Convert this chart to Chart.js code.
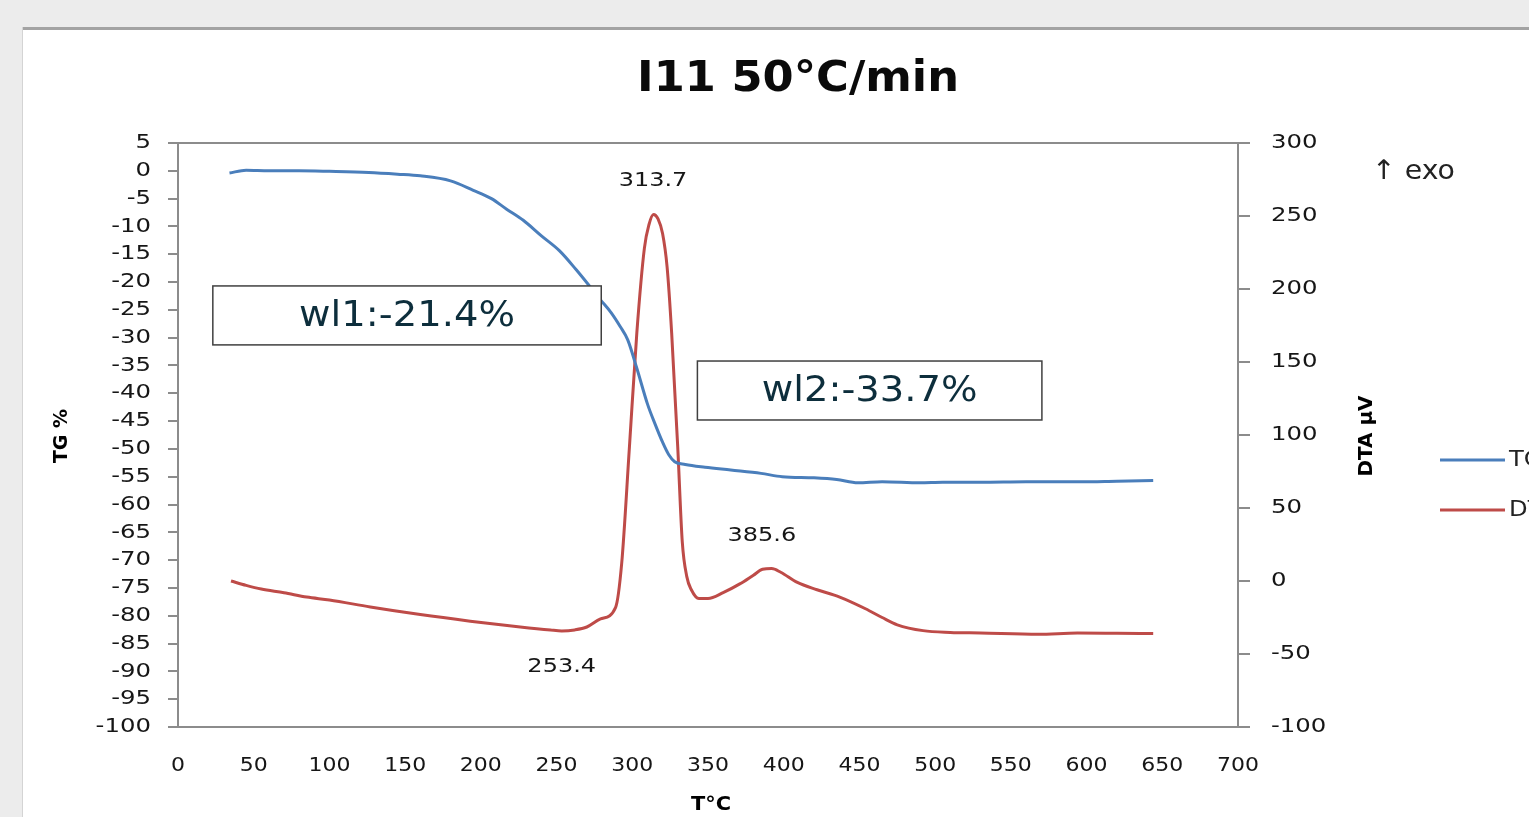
<!DOCTYPE html>
<html>
<head>
<meta charset="utf-8">
<title>I11 50°C/min</title>
<script src="https://cdn.jsdelivr.net/npm/chart.js@4.4.1/dist/chart.umd.min.js"></script>
<style>
  html, body { margin: 0; padding: 0; background: #ececec; overflow: hidden; }
  #wrap { width: 1529px; height: 817px; }
</style>
</head>
<body>
<div id="wrap"><canvas id="tgaChart" width="1529" height="817"></canvas></div>
<script>
// TG curve (temperature °C, mass change %)
const tgTemp = [34, 45, 60, 80, 100, 126, 145, 160, 180, 195, 207, 217, 228, 240, 252, 263, 272, 279, 286, 292,
  297, 303, 310, 315, 320, 324, 328, 335, 348, 365, 385, 399, 420, 435, 449, 465, 490, 505, 530, 560, 596, 620, 644];
const tgValues = [-0.4, 0.1, 0.0, 0.0, -0.1, -0.3, -0.6, -0.9, -1.8, -3.5, -5.0, -6.9, -8.9, -11.7, -14.4, -17.8, -20.8, -23.2, -25.5, -28.0,
  -30.4, -35.5, -41.9, -45.5, -48.8, -51.0, -52.3, -52.8, -53.3, -53.8, -54.4, -55.0, -55.2, -55.5, -56.1, -55.9, -56.1, -56.0, -56.0, -55.9, -55.9, -55.8, -55.7];

// DTA curve (temperature °C, µV)
const dtaTemp = [35, 45, 55, 70, 85, 100, 127, 160, 193, 226, 246, 253.4, 262, 270, 279, 289, 293, 298, 303, 308,
  311, 314, 317, 320, 323, 326, 330, 333, 336, 339, 344, 350, 360, 371, 380, 386, 392, 398, 409, 422, 437,
  454, 465, 475, 492, 510, 530, 568, 594, 620, 644];
const dtaValues = [0, -3, -5.5, -8, -11, -13, -17.8, -23, -27.5, -31.5, -33.6, -34.2, -33.5, -31.5, -26, -18, 12, 90, 170, 228,
  244, 251, 248, 238, 215, 170, 92, 27, 3, -6, -12, -12, -8, -2, 4, 8, 8.5, 6, -1, -6, -11,
  -19, -25, -30, -34, -35.2, -35.6, -36.5, -35.6, -35.8, -36];

// peak labels on the DTA curve: temperature, text, above/below
const peakTemps = [313.7, 385.6, 253.4];
const peakTexts = ["313.7", "385.6", "253.4"];
const peakAbove = [true, true, false];

// weight loss boxes: text and box corners in data units (T, TG)
const boxTexts = ["wl1:-21.4%", "wl2:-33.7%"];
const boxT0 = [23, 343];
const boxT1 = [279.5, 570.5];
const boxTG0 = [-20.7, -34.2];
const boxTG1 = [-31.3, -44.8];

const seriesNames = ["TG", "DTA"];
const blue = "#4a7ebb";
const red = "#be4b48";

function toPoints(xs, ys) {
  return xs.map((x, i) => ({ x: x, y: ys[i] }));
}

// draws text squeezed/stretched horizontally like the original picture
function sText(ctx, txt, x, y, align, sx) {
  ctx.save();
  ctx.translate(x, y);
  ctx.scale(sx, 1);
  ctx.textAlign = align;
  ctx.fillText(txt, 0, 0);
  ctx.restore();
}

function nearestDta(t) {
  let best = 0;
  dtaTemp.forEach((v, i) => { if (Math.abs(v - t) < Math.abs(dtaTemp[best] - t)) best = i; });
  return dtaValues[best];
}

const decorPlugin = {
  id: 'decor',
  beforeDraw(chart) {
    const ctx = chart.ctx;
    ctx.save();
    ctx.fillStyle = '#ececec';
    ctx.fillRect(0, 0, chart.width, chart.height);
    ctx.fillStyle = '#ffffff';
    ctx.fillRect(23, 29, chart.width - 23, chart.height - 29);
    ctx.fillStyle = '#a3a3a3';
    ctx.fillRect(23, 27, chart.width - 23, 3);
    ctx.fillStyle = '#d4d4d4';
    ctx.fillRect(22, 27, 1, chart.height - 27);
    ctx.restore();
  },
  beforeDatasetsDraw(chart) {
    const ctx = chart.ctx;
    const a = chart.chartArea;
    ctx.save();
    ctx.strokeStyle = '#8c8c8c';
    ctx.lineWidth = 2;
    ctx.strokeRect(a.left, a.top, a.right - a.left, a.bottom - a.top);
    ctx.restore();
  },
  afterDraw(chart) {
    const ctx = chart.ctx;
    const xs = chart.scales.x, ys = chart.scales.y, y2 = chart.scales.y2;
    ctx.save();
    ctx.textBaseline = 'middle';

    // title
    ctx.fillStyle = '#0a0a0a';
    ctx.font = 'bold 43px "DejaVu Sans"';
    sText(ctx, 'I11 50°C/min', 798, 80, 'center', 1.04);

    // tick labels
    ctx.fillStyle = '#161616';
    ctx.font = '20px "DejaVu Sans"';
    ys.ticks.forEach(t => sText(ctx, String(t.value), 151, ys.getPixelForValue(t.value), 'right', 1.22));
    y2.ticks.forEach(t => sText(ctx, String(t.value), 1271, y2.getPixelForValue(t.value), 'left', 1.22));
    xs.ticks.forEach(t => sText(ctx, String(t.value), xs.getPixelForValue(t.value), 766, 'center', 1.1));

    // axis titles
    ctx.fillStyle = '#000';
    ctx.font = 'bold 19px "DejaVu Sans"';
    ctx.save();
    ctx.translate(62, 436);
    ctx.rotate(-Math.PI / 2);
    sText(ctx, 'TG %', 0, 0, 'center', 1);
    ctx.restore();
    ctx.save();
    ctx.translate(1367, 436);
    ctx.rotate(-Math.PI / 2);
    sText(ctx, 'DTA µV', 0, 0, 'center', 1.05);
    ctx.restore();
    sText(ctx, 'T°C', 711, 805, 'center', 1.1);

    // exo marker
    ctx.fillStyle = '#222';
    ctx.font = '27px "DejaVu Sans"';
    sText(ctx, '↑ exo', 1372, 172, 'left', 1.05);

    // peak labels
    ctx.fillStyle = '#161616';
    ctx.font = '20px "DejaVu Sans"';
    peakTemps.forEach((t, i) => {
      const px = xs.getPixelForValue(t);
      const py = y2.getPixelForValue(nearestDta(t)) + (peakAbove[i] ? -34 : 36);
      sText(ctx, peakTexts[i], px, py, 'center', 1.2);
    });

    // weight-loss boxes
    boxTexts.forEach((txt, i) => {
      const x0 = xs.getPixelForValue(boxT0[i]), x1 = xs.getPixelForValue(boxT1[i]);
      const yA = ys.getPixelForValue(boxTG0[i]), yB = ys.getPixelForValue(boxTG1[i]);
      ctx.fillStyle = '#fff';
      ctx.fillRect(x0, yA, x1 - x0, yB - yA);
      ctx.strokeStyle = '#404040';
      ctx.lineWidth = 1.5;
      ctx.strokeRect(x0, yA, x1 - x0, yB - yA);
      ctx.fillStyle = '#0d2e3c';
      ctx.font = '35px "DejaVu Sans"';
      sText(ctx, txt, (x0 + x1) / 2, (yA + yB) / 2 + 1, 'center', 1.1);
    });

    // legend (cut off at the right edge like the original)
    const legendY = [460, 510];
    const legendCol = [blue, red];
    seriesNames.forEach((name, i) => {
      ctx.strokeStyle = legendCol[i];
      ctx.lineWidth = 3;
      ctx.beginPath();
      ctx.moveTo(1440, legendY[i]);
      ctx.lineTo(1505, legendY[i]);
      ctx.stroke();
      ctx.fillStyle = '#222';
      ctx.font = '22px "DejaVu Sans"';
      sText(ctx, name, 1509, legendY[i], 'left', 1.1);
    });
    ctx.restore();
  }
};

window.onload = function () {
  const ctx = document.getElementById('tgaChart').getContext('2d');
  const tgaChart = new Chart(ctx, {
    type: 'line',
    data: {
      datasets: [{
        label: seriesNames[0],
        data: toPoints(tgTemp, tgValues),
        yAxisID: 'y',
        borderColor: blue,
        borderWidth: 3,
        pointRadius: 0,
        cubicInterpolationMode: 'monotone'
      }, {
        label: seriesNames[1],
        data: toPoints(dtaTemp, dtaValues),
        yAxisID: 'y2',
        borderColor: red,
        borderWidth: 3,
        pointRadius: 0,
        cubicInterpolationMode: 'monotone'
      }]
    },
    options: {
      responsive: false,
      animation: false,
      devicePixelRatio: 1,
      layout: { padding: { top: 143, left: 0, right: 0, bottom: 0 } },
      plugins: { legend: { display: false }, tooltip: { enabled: false } },
      scales: {
        x: {
          type: 'linear', min: 0, max: 700,
          ticks: { stepSize: 50, display: false },
          grid: { drawOnChartArea: false, drawTicks: false },
          border: { color: '#8c8c8c', width: 2 },
          afterFit(scale) { scale.height = 90; }
        },
        y: {
          position: 'left', min: -100, max: 5,
          ticks: { stepSize: 5, display: false },
          grid: { drawOnChartArea: false, tickLength: 10, color: '#8c8c8c', lineWidth: 2 },
          border: { color: '#8c8c8c', width: 2 },
          afterFit(scale) { scale.width = 178; }
        },
        y2: {
          position: 'right', min: -100, max: 300,
          ticks: { stepSize: 50, display: false },
          grid: { drawOnChartArea: false, tickLength: 12, color: '#8c8c8c', lineWidth: 2 },
          border: { color: '#8c8c8c', width: 2 },
          afterFit(scale) { scale.width = 291; }
        }
      }
    },
    plugins: [decorPlugin]
  });
};
</script>
</body>
</html>
